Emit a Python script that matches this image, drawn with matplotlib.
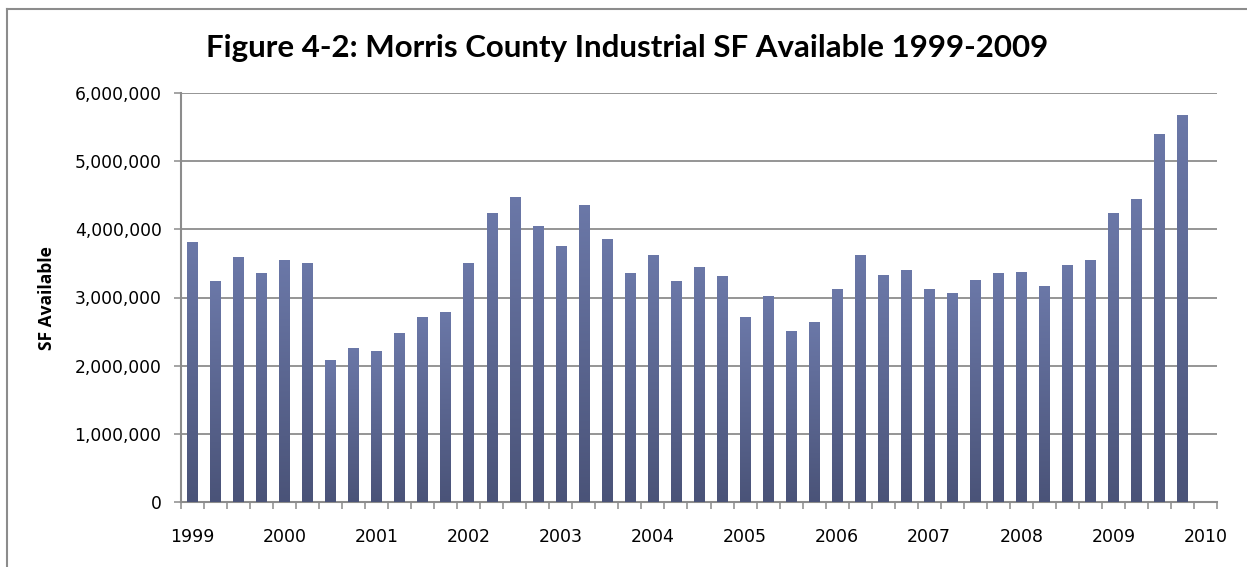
import matplotlib.pyplot as plt
import numpy as np
from matplotlib.colors import LinearSegmentedColormap
from matplotlib.ticker import FuncFormatter, MultipleLocator

# Quarterly industrial square feet available, Q1 1999 - Q4 2009
sf_available = [
    3810000, 3240000, 3590000, 3360000,
    3550000, 3510000, 2080000, 2260000,
    2210000, 2480000, 2710000, 2790000,
    3510000, 4240000, 4480000, 4050000,
    3760000, 4360000, 3860000, 3360000,
    3620000, 3240000, 3450000, 3320000,
    2710000, 3020000, 2510000, 2640000,
    3120000, 3620000, 3330000, 3400000,
    3120000, 3070000, 3260000, 3360000,
    3370000, 3170000, 3480000, 3550000,
    4240000, 4450000, 5400000, 5670000,
]
year_labels = ['1999', '2000', '2001', '2002', '2003', '2004',
               '2005', '2006', '2007', '2008', '2009', '2010']

title = 'Figure 4-2: Morris County Industrial SF Available 1999-2009'
grid_gray = '#8c8c8c'

fig = plt.figure(figsize=(12.47, 5.67), dpi=100)
ax = fig.add_axes([181 / 1247, 1 - 502 / 567, 1036 / 1247, 409 / 567])

x = np.arange(len(sf_available))
bars = ax.bar(x, sf_available, width=0.46, color='#5b6792', zorder=2)

# vertical gradient inside each bar: lighter top, darker bottom
cmap = LinearSegmentedColormap.from_list('bar', ['#4a5378', '#6b78a8'])
grad = np.linspace(0, 1, 256).reshape(-1, 1)
for b in bars:
    x0, w, h = b.get_x(), b.get_width(), b.get_height()
    im = ax.imshow(grad, cmap=cmap, origin='lower', aspect='auto',
                   extent=[x0, x0 + w, 0, h], zorder=3, interpolation='bilinear')
    im.set_clip_path(b)
    b.set_alpha(0)

ax.set_xlim(-0.5, len(sf_available) + 0.5)
ax.set_ylim(0, 6000000)

ax.yaxis.set_major_locator(MultipleLocator(1000000))
ax.yaxis.set_major_formatter(FuncFormatter(lambda v, p: f'{int(v):,}'))
ax.grid(axis='y', color=grid_gray, linewidth=1.3, zorder=0)
ax.set_axisbelow(True)

# year labels sit under the first quarter of each year
ax.set_xticks(np.arange(0, len(year_labels) * 4, 4))
ax.set_xticklabels(year_labels)
ax.set_xticks(np.arange(-0.5, len(sf_available) + 1, 1), minor=True)
ax.tick_params(axis='x', which='major', length=0, pad=19, labelsize=12.5)
ax.tick_params(axis='x', which='minor', length=5, width=1.1, color=grid_gray)
ax.tick_params(axis='y', length=5, width=1.1, color=grid_gray, pad=9, labelsize=12.3)

for side in ['top', 'right']:
    ax.spines[side].set_visible(False)
for side in ['left', 'bottom']:
    ax.spines[side].set_color(grid_gray)
    ax.spines[side].set_linewidth(1.5)

fig.text(47 / 1247, 1 - 298 / 567, 'SF Available', rotation=90, ha='center', va='center',
         fontfamily='Open Sans', fontweight='bold', fontsize=12.5)

fig.text(627 / 1247, 1 - 48 / 567, title, ha='center', va='center',
         fontfamily='Lato', fontweight='bold', fontsize=22.5)

# chart-area outline along the top and left edges
fig.add_artist(plt.Line2D([7 / 1247, 1], [1 - 9 / 567] * 2, color=grid_gray, linewidth=1.5))
fig.add_artist(plt.Line2D([7 / 1247] * 2, [0, 1 - 9 / 567], color=grid_gray, linewidth=1.5))

fig.savefig('out.png', dpi=100)
